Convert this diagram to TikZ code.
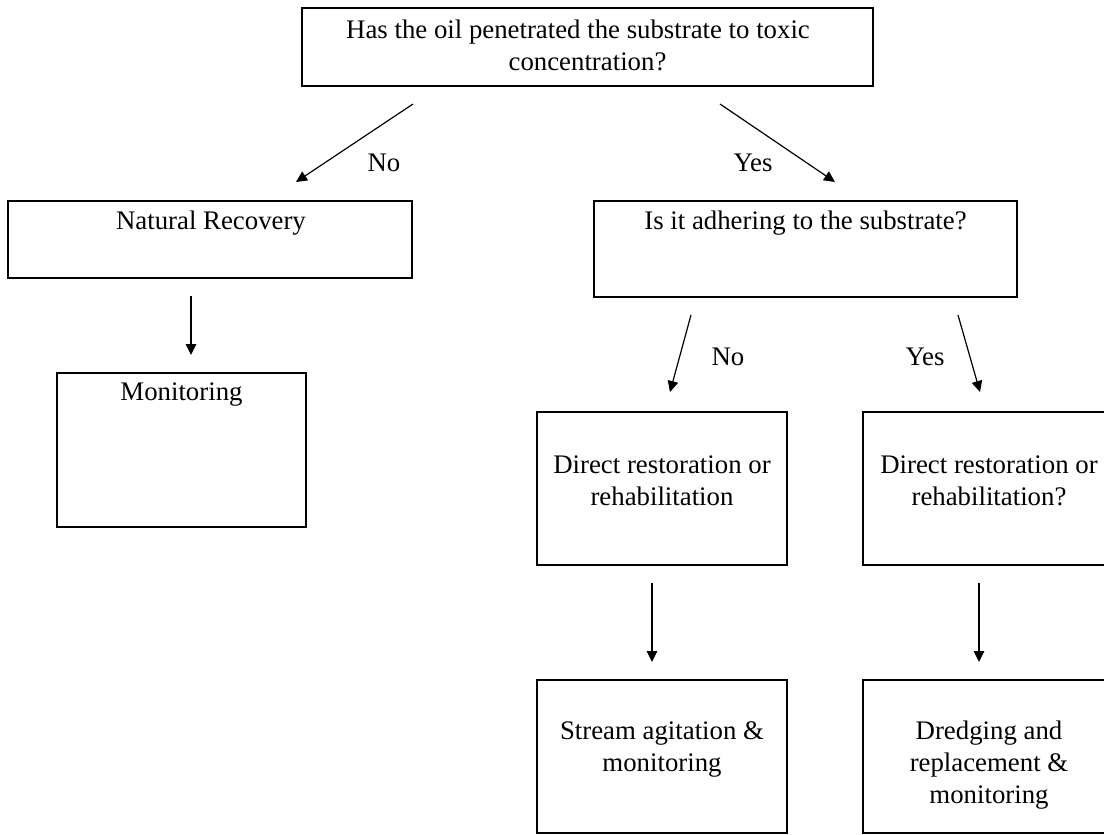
\documentclass[tikz,border=0pt]{standalone}
\usepackage{fontspec}
\setmainfont{Liberation Serif}
\usetikzlibrary{arrows.meta}
\begin{document}
\begin{tikzpicture}[x=1pt,y=-1pt,
  box/.style={draw=black,line width=1.3pt,inner sep=0pt,minimum width=#1},
  txt/.style={inner sep=0pt,align=center,font=\fontsize{26.8}{32}\selectfont},
  arr/.style={line width=1.2pt,-{Triangle[length=11pt,width=10.5pt]}}]
\useasboundingbox (0,0) rectangle (1104,835);
\clip (0,0) rectangle (1104,835);

% boxes
\node[box=571pt,minimum height=78pt]  (top) at (587.5,47)   {};
\node[box=404pt,minimum height=77pt]  (nr)  at (210,239.5)  {};
\node[box=249pt,minimum height=154pt] (mon) at (181.5,450)  {};
\node[box=423pt,minimum height=96pt]  (adh) at (805.5,249)  {};
\node[box=250pt,minimum height=153pt] (drl) at (662,488.5)  {};
\node[box=254pt,minimum height=153pt] (drr) at (990,488.5)  {};
\node[box=250pt,minimum height=153pt] (sa)  at (662,756.5)  {};
\node[box=254pt,minimum height=153pt] (dr)  at (990,756.5)  {};

% texts
\node[txt] (topT) at (578,45.5) {Has the oil penetrated the substrate to toxic\\\hspace*{19pt}concentration?};
\node[txt] (nrT)  at (211,223)  {Natural Recovery};
\node[txt] (monT) at (181.5,395) {Monitoring};
\node[txt] (adhT) at (805.5,223) {Is it adhering to the substrate?};
\node[txt] (drlT) at (662,481)  {Direct restoration or\\rehabilitation};
\node[txt] (drrT) at (989,481)  {Direct restoration or\\rehabilitation?};
\node[txt] (saT)  at (662,749)  {Stream agitation \&\\monitoring};
\node[txt] (drT)  at (989,765)  {Dredging and\\replacement \&\\monitoring};

% branch labels
\node[txt] (no1)  at (384,163) {No};
\node[txt] (yes1) at (753,163) {Yes};
\node[txt] (no2)  at (728,357) {No};
\node[txt] (yes2) at (925,357) {Yes};

% arrow end points
\coordinate (a1s) at (413,104);  \coordinate (a1e) at (296,182);
\coordinate (a2s) at (720,104);  \coordinate (a2e) at (835,182);
\coordinate (a3s) at (191,296);  \coordinate (a3e) at (191,355);
\coordinate (a4s) at (691,315);  \coordinate (a4e) at (670,392);
\coordinate (a5s) at (958,315);  \coordinate (a5e) at (980,392);
\coordinate (a6s) at (652,583);  \coordinate (a6e) at (652,662);
\coordinate (a7s) at (979,583);  \coordinate (a7e) at (979,662);

\draw[arr] (a1s) -- (a1e);
\draw[arr] (a2s) -- (a2e);
\draw[arr] (a3s) -- (a3e);
\draw[arr] (a4s) -- (a4e);
\draw[arr] (a5s) -- (a5e);
\draw[arr] (a6s) -- (a6e);
\draw[arr] (a7s) -- (a7e);
\end{tikzpicture}
\end{document}
